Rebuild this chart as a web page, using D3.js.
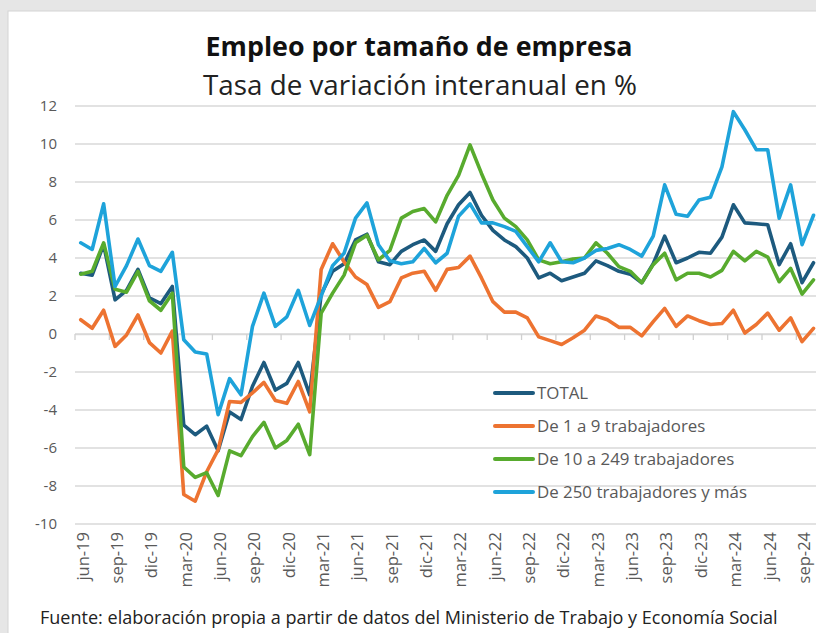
<!DOCTYPE html>
<html>
<head>
<meta charset="utf-8">
<script src="https://cdn.jsdelivr.net/npm/d3@7"></script>
<style>
  body { margin: 0; background: #e6e6e6; }
  svg { display: block; font-family: "Open Sans", "Noto Sans", sans-serif; }
</style>
</head>
<body>
<svg id="chart" width="816" height="633"></svg>
<script>
const months = [
  'jun-19','jul-19','ago-19','sep-19','oct-19','nov-19','dic-19',
  'ene-20','feb-20','mar-20','abr-20','may-20','jun-20','jul-20','ago-20','sep-20','oct-20','nov-20','dic-20',
  'ene-21','feb-21','mar-21','abr-21','may-21','jun-21','jul-21','ago-21','sep-21','oct-21','nov-21','dic-21',
  'ene-22','feb-22','mar-22','abr-22','may-22','jun-22','jul-22','ago-22','sep-22','oct-22','nov-22','dic-22',
  'ene-23','feb-23','mar-23','abr-23','may-23','jun-23','jul-23','ago-23','sep-23','oct-23','nov-23','dic-23',
  'ene-24','feb-24','mar-24','abr-24','may-24','jun-24','jul-24','ago-24','sep-24','oct-24'
];

const total = [3.2, 3.1, 4.7, 1.8, 2.3, 3.4, 1.9, 1.6, 2.5, -4.8, -5.3, -4.85, -6.15, -4.1, -4.5, -2.75, -1.5, -2.95,
  -2.6, -1.5, -3.2, 2.1, 3.3, 3.7, 4.95, 5.25, 3.8, 3.65, 4.35, 4.7, 4.95, 4.35, 5.8, 6.8, 7.45, 6.25, 5.45,
  4.95, 4.6, 4.0, 2.95, 3.2, 2.8, 3.0, 3.2, 3.85, 3.6, 3.3, 3.15, 2.7, 3.7, 5.15, 3.75, 4.0, 4.3, 4.25, 5.1,
  6.8, 5.85, 5.8, 5.75, 3.65, 4.75, 2.7, 3.75];

const micro = [0.75, 0.3, 1.25, -0.65, -0.05, 1.0, -0.45, -1.0, 0.15, -8.45, -8.8, -7.25, -6.1, -3.55, -3.6, -3.1, -2.55, -3.5,
  -3.65, -2.5, -4.1, 3.4, 4.75, 3.8, 3.0, 2.6, 1.4, 1.7, 2.95, 3.2, 3.3, 2.3, 3.4, 3.5, 4.1, 2.95, 1.7,
  1.15, 1.15, 0.85, -0.15, -0.35, -0.55, -0.2, 0.2, 0.95, 0.75, 0.35, 0.35, -0.1, 0.65, 1.35, 0.4, 0.95, 0.7, 0.5, 0.55,
  1.25, 0.05, 0.5, 1.1, 0.2, 0.85, -0.4, 0.3];

const medium = [3.15, 3.3, 4.8, 2.35, 2.2, 3.3, 1.75, 1.25, 2.15, -7.0, -7.55, -7.3, -8.5, -6.15, -6.4, -5.4, -4.65, -6.0,
  -5.6, -4.75, -6.35, 1.1, 2.15, 3.1, 4.8, 5.2, 3.9, 4.4, 6.1, 6.45, 6.6, 5.9, 7.3, 8.35, 9.95, 8.45, 7.05,
  6.1, 5.65, 4.95, 3.9, 3.7, 3.8, 3.95, 4.0, 4.8, 4.25, 3.55, 3.3, 2.7, 3.65, 4.25, 2.85, 3.2, 3.2, 3.0, 3.35,
  4.35, 3.85, 4.35, 4.05, 2.75, 3.45, 2.1, 2.85];

const large = [4.8, 4.45, 6.85, 2.5, 3.6, 5.0, 3.6, 3.3, 4.3, -0.3, -0.95, -1.05, -4.25, -2.35, -3.2, 0.4, 2.15, 0.4,
  0.9, 2.3, 0.45, 2.0, 3.6, 4.25, 6.1, 6.9, 4.7, 3.85, 3.7, 3.8, 4.5, 3.75, 4.25, 6.2, 6.85, 5.85, 5.85,
  5.65, 5.4, 4.6, 3.8, 4.8, 3.8, 3.75, 4.0, 4.4, 4.5, 4.7, 4.45, 4.1, 5.15, 7.85, 6.3, 6.2, 7.05, 7.2, 8.8,
  11.7, 10.75, 9.7, 9.7, 6.1, 7.85, 4.7, 6.25];

const seriesNames = ['TOTAL', 'De 1 a 9 trabajadores', 'De 10 a 249 trabajadores', 'De 250 trabajadores y más'];
const seriesColors = ['#1d5a7e', '#ed7331', '#58ab2e', '#1ea3da'];
const yTicks = [-10, -8, -6, -4, -2, 0, 2, 4, 6, 8, 10, 12];

const series = [total, micro, medium, large].map((values, i) => ({
  name: seriesNames[i], color: seriesColors[i], values
}));

const svg = d3.select('#chart');

// gray frame with the white panel
svg.append('rect').attr('width', 816).attr('height', 633).attr('fill', '#e6e6e6');
svg.append('rect').attr('x', 8).attr('y', 11).attr('width', 820).attr('height', 640)
  .attr('fill', '#fff').attr('stroke', '#d4d4d4');

const plotLeft = 75, plotTop = 106, plotBottom = 524;
const step = 11.45;

const x = d3.scaleBand().domain(months).range([plotLeft, plotLeft + step * months.length]).padding(0);
const y = d3.scaleLinear().domain([-10, 12]).range([plotBottom, plotTop]);

// scale a text so that it spans a given width
function fitText(sel, width) {
  const base = parseFloat(sel.style('font-size'));
  const w = sel.node().getComputedTextLength();
  const size = base * width / w;
  sel.style('font-size', size.toFixed(2) + 'px');
  return size;
}

// gridlines
svg.append('g')
  .selectAll('line')
  .data(yTicks)
  .join('line')
  .attr('x1', plotLeft).attr('x2', 816)
  .attr('y1', d => y(d)).attr('y2', d => y(d))
  .attr('stroke', '#d9d9d9').attr('stroke-width', 1.3);

// y labels
svg.append('g')
  .selectAll('text')
  .data(yTicks)
  .join('text')
  .attr('x', 57).attr('y', d => y(d))
  .attr('dy', '0.35em')
  .attr('text-anchor', 'end')
  .attr('fill', '#595959')
  .style('font-size', '15px')
  .text(d => String(d));

// axis at zero with ticks between groups of three months
const every3 = months.filter((m, i) => i % 3 === 0);
const zeroAxis = svg.append('g')
  .attr('transform', `translate(0,${y(0)})`)
  .call(d3.axisBottom(x).tickValues(every3).tickFormat('').tickSize(6).tickSizeOuter(0));
zeroAxis.select('.domain').attr('stroke', '#d9d9d9').attr('stroke-width', 1.3);
zeroAxis.selectAll('.tick')
  .attr('transform', d => `translate(${x(d)},0)`)
  .select('line').attr('stroke', '#d0d0d0').attr('stroke-width', 1.3);

// month labels at the bottom
const labelAxis = svg.append('g')
  .attr('transform', `translate(0,${plotBottom + 8})`)
  .call(d3.axisBottom(x).tickValues(every3).tickSize(0));
labelAxis.select('.domain').remove();
labelAxis.selectAll('text')
  .attr('transform', 'rotate(-90)')
  .attr('x', 0).attr('y', 2).attr('dy', '0.35em')
  .attr('text-anchor', 'end')
  .attr('fill', '#595959')
  .style('font-size', '16.5px')
  .style('font-family', '"Open Sans", "Noto Sans", sans-serif');

// lines
const line = d3.line()
  .x((d, i) => x(months[i]) + x.bandwidth() / 2)
  .y(d => y(d));

svg.append('g')
  .selectAll('path')
  .data(series)
  .join('path')
  .attr('d', d => line(d.values))
  .attr('fill', 'none')
  .attr('stroke', d => d.color)
  .attr('stroke-width', 3.6)
  .attr('stroke-linejoin', 'round')
  .attr('stroke-linecap', 'round');

// legend
const legend = svg.append('g')
  .selectAll('g')
  .data(series)
  .join('g')
  .attr('transform', (d, i) => `translate(495,${393 + i * 33})`);
legend.append('line')
  .attr('x1', 0).attr('x2', 38)
  .attr('stroke', d => d.color).attr('stroke-width', 4).attr('stroke-linecap', 'round');
const legendText = legend.append('text')
  .attr('x', 42).attr('dy', '0.35em')
  .attr('fill', '#595959')
  .style('font-size', '14px')
  .text(d => d.name);
// size the legend font on its longest entry
const legendSize = fitText(legendText.filter((d, i) => i === 3), 210);
legendText.style('font-size', legendSize.toFixed(2) + 'px');

const title = svg.append('text')
  .attr('x', 419).attr('y', 56)
  .attr('text-anchor', 'middle')
  .attr('fill', '#111')
  .style('font-size', '24px').style('font-weight', 700)
  .text('Empleo por tamaño de empresa');
fitText(title, 427);

const subtitle = svg.append('text')
  .attr('x', 420).attr('y', 95)
  .attr('text-anchor', 'middle')
  .attr('fill', '#222')
  .style('font-size', '24px')
  .text('Tasa de variación interanual en %');
fitText(subtitle, 434);

const source = svg.append('text')
  .attr('x', 40).attr('y', 624)
  .attr('fill', '#222')
  .style('font-size', '16px')
  .text('Fuente: elaboración propia a partir de datos del Ministerio de Trabajo y Economía Social');
fitText(source, 738);
</script>
</body>
</html>
